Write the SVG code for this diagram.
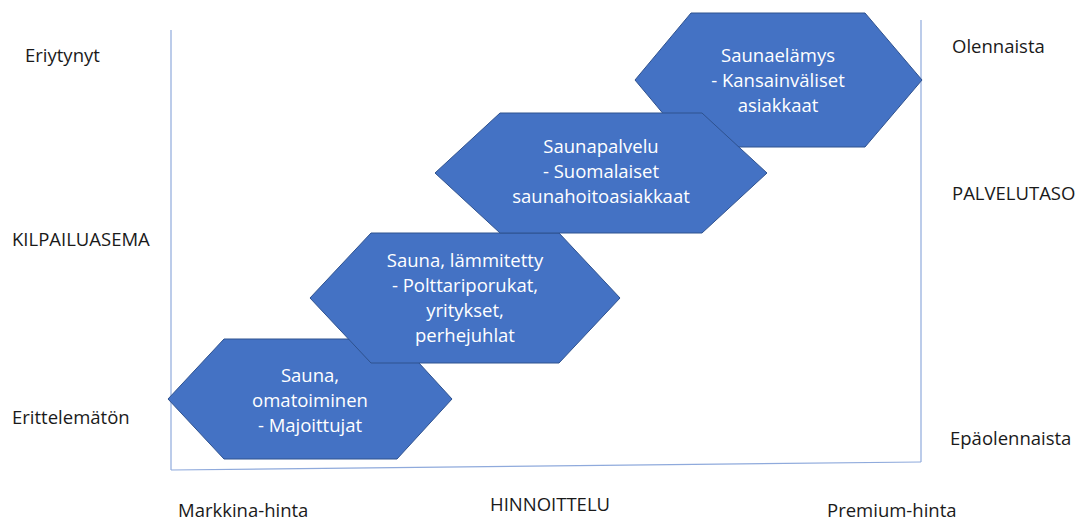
<svg xmlns="http://www.w3.org/2000/svg" width="1081" height="520" viewBox="0 0 1081 520">
  <style>
    .lbl { font-family: "Open Sans", "Liberation Sans", sans-serif; font-size: 18.5px; fill: #1a1a1a; }
    .hex { fill: #4472C4; stroke: #2F528F; stroke-width: 1; }
    .htxt { font-family: "Open Sans", "Liberation Sans", sans-serif; font-size: 18.5px; fill: #ffffff; text-anchor: middle; }
    .axis { stroke: #8FAADC; stroke-width: 1.2; fill: none; }
  </style>
  <rect width="1081" height="520" fill="#ffffff"/>

  <!-- frame lines -->
  <g id="connectors">
    <line class="axis" x1="171" y1="30" x2="171" y2="470"/>
    <line class="axis" x1="171" y1="470" x2="921" y2="462"/>
    <line class="axis" x1="921" y1="20" x2="921" y2="462"/>
  </g>

  <!-- tiers, lowest to highest -->
  <g id="tier-sauna-omatoiminen">
    <polygon class="hex" points="168,399 224,339 397,339 452,399 397,459 224,459"/>
    <text class="htxt" x="310" y="382">Sauna,</text>
    <text class="htxt" x="310" y="407">omatoiminen</text>
    <text class="htxt" x="310" y="432">- Majoittujat</text>
  </g>
  <g id="tier-sauna-lammitetty">
    <polygon class="hex" points="310,298 371,233 559,233 620,298 559,363 371,363"/>
    <text class="htxt" x="465" y="267">Sauna, lämmitetty</text>
    <text class="htxt" x="465" y="292">- Polttariporukat,</text>
    <text class="htxt" x="465" y="317">yritykset,</text>
    <text class="htxt" x="465" y="342">perhejuhlat</text>
  </g>
  <g id="tier-saunaelamys">
    <polygon class="hex" points="635,80 691,13 865,13 922,80 865,147 691,147"/>
    <text class="htxt" x="778" y="62">Saunaelämys</text>
    <text class="htxt" x="778" y="87">- Kansainväliset</text>
    <text class="htxt" x="778" y="112">asiakkaat</text>
  </g>
  <g id="tier-saunapalvelu">
    <polygon class="hex" points="435,173 500,113 702,113 767,173 702,233 500,233"/>
    <text class="htxt" x="601" y="153">Saunapalvelu</text>
    <text class="htxt" x="601" y="178">- Suomalaiset</text>
    <text class="htxt" x="601" y="203">saunahoitoasiakkaat</text>
  </g>

  <!-- axis labels -->
  <g id="labels">
    <text class="lbl" x="25" y="62">Eriytynyt</text>
    <text class="lbl" x="12" y="246">KILPAILUASEMA</text>
    <text class="lbl" x="12" y="424">Erittelemätön</text>
    <text class="lbl" x="178" y="517">Markkina-hinta</text>
    <text class="lbl" x="490" y="511">HINNOITTELU</text>
    <text class="lbl" x="827" y="517">Premium-hinta</text>
    <text class="lbl" x="952" y="53">Olennaista</text>
    <text class="lbl" x="952" y="200">PALVELUTASO</text>
    <text class="lbl" x="950" y="445">Epäolennaista</text>
  </g>
</svg>
